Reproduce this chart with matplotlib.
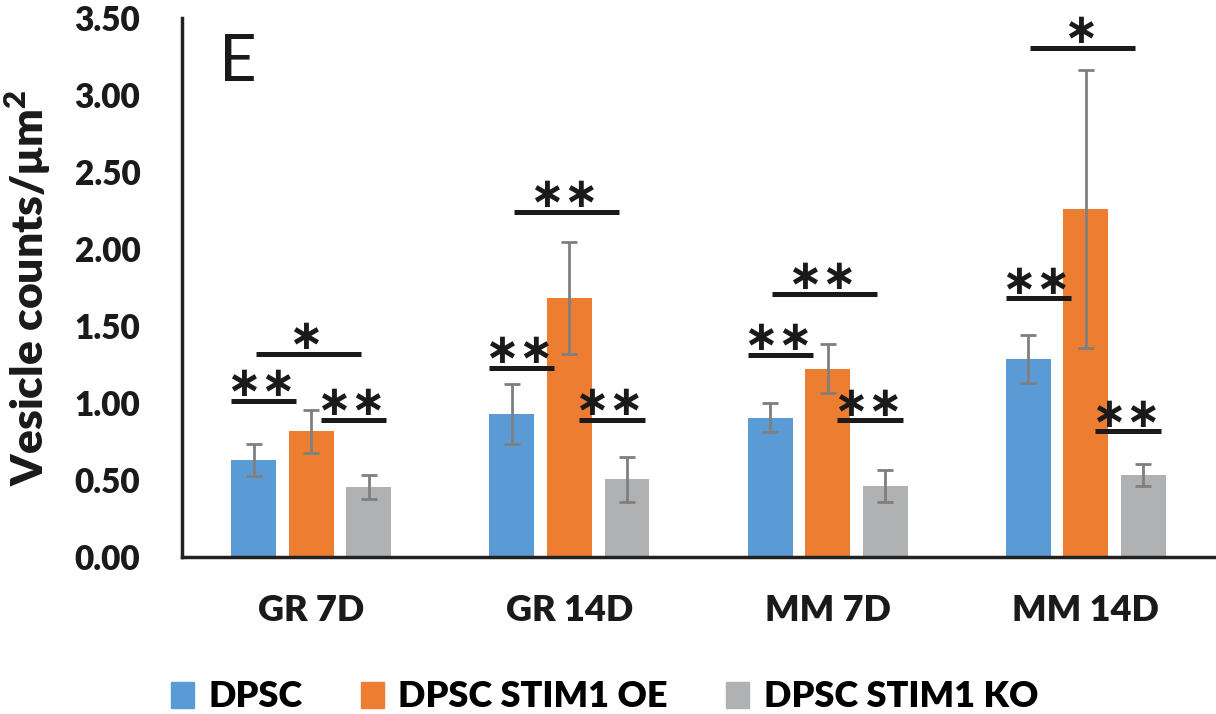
import numpy as np
import matplotlib.pyplot as plt
from matplotlib.patches import Patch

# values
groups = ["GR 7D", "GR 14D", "MM 7D", "MM 14D"]
series = ["DPSC", "DPSC STIM1 OE", "DPSC STIM1 KO"]
dpsc = [0.63, 0.93, 0.905, 1.285]
dpsc_err = [0.105, 0.195, 0.095, 0.155]
oe = [0.815, 1.68, 1.222, 2.26]
oe_err = [0.137, 0.365, 0.16, 0.905]
ko = [0.455, 0.505, 0.46, 0.535]
ko_err = [0.077, 0.145, 0.104, 0.072]

# significance brackets: (group index, kind, y, label)
sig = [
    (0, "left", 1.013, "∗∗"), (0, "top", 1.318, "∗"), (0, "right", 0.89, "∗∗"),
    (1, "left", 1.227, "∗∗"), (1, "top", 2.24, "∗∗"), (1, "right", 0.89, "∗∗"),
    (2, "left", 1.314, "∗∗"), (2, "top", 1.708, "∗∗"), (2, "right", 0.888, "∗∗"),
    (3, "left", 1.68, "∗∗"), (3, "top", 3.308, "∗"), (3, "right", 0.817, "∗∗"),
]
span = {"left": (-0.31, -0.058), "top": (-0.215, 0.192), "right": (0.037, 0.291)}

colors = ["#5B9BD5", "#ED7D31", "#B0B1B3"]
font = "Lato"
plt.rcParams['font.family'] = [font, 'DejaVu Sans']
heavy = 'heavy'

fig = plt.figure(figsize=(12.16, 7.14), dpi=100)
ax = fig.add_axes([0.1497, 0.2199, 0.8495, 0.7549])

x = np.arange(len(groups))
w = 0.174
step = 0.223
for i, (vals, errs) in enumerate([(dpsc, dpsc_err), (oe, oe_err), (ko, ko_err)]):
    ax.bar(x + (i - 1) * step, vals, w, color=colors[i], label=series[i], zorder=2)
    ax.errorbar(x + (i - 1) * step, vals, yerr=errs, fmt='none', ecolor="#7F7F7F",
                elinewidth=2.0, capsize=6, capthick=2.0, zorder=3)

for g, kind, y, lab in sig:
    x0, x1 = span[kind]
    ax.plot([g + x0, g + x1], [y, y], color="#1A1A1A", lw=3.6, solid_capstyle='butt', zorder=4)
    ax.annotate(lab, xy=(g + (x0 + x1) / 2 - 0.01, y), xytext=(0, 12), textcoords='offset points',
                ha='center', va='center', fontsize=30, fontweight='bold', family='DejaVu Sans',
                color="#1A1A1A")

ax.set_xlim(-0.5, 3.5)
ax.set_ylim(0, 3.5)
ax.set_yticks(np.arange(0, 3.51, 0.5))
ax.set_yticklabels([f"{v:.2f}" for v in np.arange(0, 3.51, 0.5)])
ax.set_xticks(x)
ax.set_xticklabels(groups)
ax.tick_params(axis='both', length=0, colors="#1A1A1A")
ax.tick_params(axis='y', pad=30, labelsize=24)
ax.tick_params(axis='x', pad=27, labelsize=26)
for t in ax.get_xticklabels() + ax.get_yticklabels():
    t.set_fontweight(heavy)

for s in ["top", "right"]:
    ax.spines[s].set_visible(False)
for s in ["left", "bottom"]:
    ax.spines[s].set_linewidth(2.5)
    ax.spines[s].set_color("#222222")

ax.set_ylabel("Vesicle counts/μm$^\\mathregular{2}$", fontsize=32, fontweight=heavy, color="#1A1A1A")
ax.yaxis.set_label_coords(-0.149, 0.5)
ax.yaxis.label.set_va('center')

ax.text(0.036, 0.917, "E", transform=ax.transAxes, fontsize=47, color="#1A1A1A",
        ha='left', va='center')

handles = [Patch(color=c) for c in colors]
fig.legend(handles, series, loc='center', bbox_to_anchor=(0.497, 0.024), ncol=3, frameon=False,
           prop={'family': font, 'weight': heavy, 'size': 26}, handlelength=0.65, handleheight=0.75,
           handletextpad=0.4, columnspacing=1.6)

fig.savefig("out.png", dpi=100)
